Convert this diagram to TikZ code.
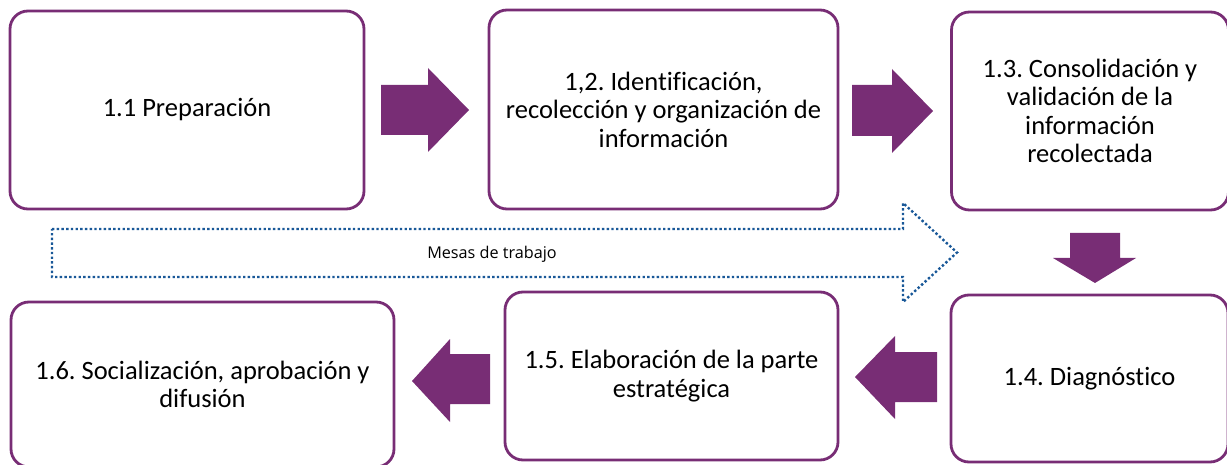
\documentclass[tikz,border=0pt]{standalone}
\usepackage{fontspec}
\setmainfont{Carlito}[Ligatures=NoCommon]
\newfontfamily\mesafont{Open Sans}
\definecolor{purp}{RGB}{120,45,117}
\definecolor{dotblue}{RGB}{25,88,152}
\frenchspacing
\begin{document}
\begin{tikzpicture}[x=1pt,y=-1pt,
  box/.style={draw=purp, line width=2.8pt, rounded corners=18pt, fill=white,
    align=center, font=\fontsize{26.5}{28.5}\selectfont, inner sep=0pt},
  blockarrow/.style={fill=purp},
  dotarrow/.style={draw=dotblue, line width=2.4pt, dash pattern=on 2.4pt off 2.3pt},
  mesastext/.style={font=\mesafont\fontsize{16.2}{18}\selectfont, inner sep=0pt}]
\useasboundingbox (0,0) rectangle (1227,465);
% boxes
\node[box, minimum width=354pt, minimum height=198pt] (b1) at (187,110) {1.1 Preparación};
\node[box, minimum width=349pt, minimum height=199pt] (b2) at (663.5,109.5) {1,2. Identificación,\\recolección y organización de\\información};
\node[box, minimum width=277pt, minimum height=198pt] (b3) at (1090,111) {1.3. Consolidación y\\validación de la\\información\\recolectada};
\node[box, minimum width=277pt, minimum height=167pt] (b4) at (1089.5,378.5) {1.4. Diagnóstico};
\node[box, minimum width=333pt, minimum height=168pt] (b5) at (671.5,376) {1.5. Elaboración de la parte\\estratégica};
\node[box, minimum width=383pt, minimum height=165pt] (b6) at (202.5,384.5) {\raisebox{-2pt}{\parbox{383pt}{\centering 1.6. Socialización, aprobación y\\difusión}}};
% block arrows
\fill[blockarrow] (381,85) -- (428,85) -- (428,68) -- (469,110) -- (428,152) -- (428,135) -- (381,135) -- cycle;
\fill[blockarrow] (852,85) -- (892,85) -- (892,69) -- (933,111) -- (892,153) -- (892,136) -- (852,136) -- cycle;
\fill[blockarrow] (1070,233) -- (1120,233) -- (1120,258) -- (1136,258) -- (1095,283) -- (1053,258) -- (1070,258) -- cycle;
\fill[blockarrow] (937,352) -- (895,352) -- (895,336) -- (855,377) -- (895,419) -- (895,402) -- (937,402) -- cycle;
\fill[blockarrow] (490,354) -- (450,354) -- (450,339) -- (412,381) -- (450,422) -- (450,404) -- (490,404) -- cycle;
% dotted arrow
\draw[dotarrow] (52,229) -- (903,229) -- (903,203) -- (957,252.5) -- (903,302) -- (903,277) -- (52,277) -- cycle;
\node[mesastext] (mesas) at (492,254) {Mesas de trabajo};
\end{tikzpicture}
\end{document}
